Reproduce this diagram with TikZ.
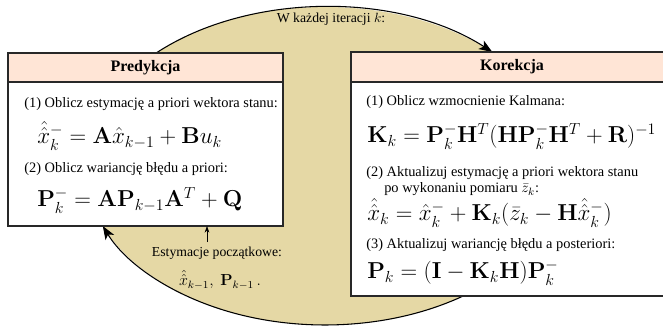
\documentclass[tikz,border=0pt]{standalone}
\usepackage[no-math]{fontspec}
\setmainfont{Liberation Serif}
\usepackage{amsmath}
\usetikzlibrary{arrows.meta,fit,calc}
\definecolor{cyklfill}{RGB}{229,216,165}
\definecolor{naglfill}{RGB}{255,229,214}
\definecolor{ramka}{RGB}{40,40,40}

\begin{document}
\begin{tikzpicture}[x=0.75pt, y=0.75pt, >={Stealth[length=10pt, width=7.5pt, inset=2.5pt]},
	every node/.style={font=\fontsize{10.8}{13}\selectfont},
	ramkaBox/.style={draw=ramka, fill=white, line width=0.8pt, inner sep=0pt},
	naglowek/.style={draw=ramka, fill=naglfill, line width=0.8pt, inner sep=0pt},
	tytul/.style={font=\fontsize{12}{14}\selectfont\bfseries},
	tekst/.style={anchor=base west, inner sep=0pt},
	uwaga/.style={font=\fontsize{10.3}{12}\selectfont},
	wzor/.style={anchor=base west, inner sep=0pt, font=\fontsize{16.5}{19}\selectfont}]
	\useasboundingbox (0,0) rectangle (663,327);

	% 1. tlo cyklu (elipsa pod ramkami)
	\coordinate (srodek) at (325,161);
	\fill[cyklfill] (srodek) ellipse [x radius=240, y radius=159];

	% 2. luki ze strzalkami
	\coordinate (gorStart) at ($(srodek)+(134.7:240 and 159)$);
	\coordinate (dolStart) at ($(srodek)+(-54.85:240 and 159)$);
	\draw[->, line width=0.8pt] (gorStart) arc[start angle=134.7, end angle=45.8, x radius=240, y radius=159];
	\draw[->, line width=0.8pt] (dolStart) arc[start angle=-54.85, end angle=-157.8, x radius=240, y radius=159];
	\node[uwaga] (iteracja) at (331,308) {W każdej iteracji $k$:};

	% 3. ramka predykcji
	\node[ramkaBox, fit={(8,274) (283,101)}] (predykcja) {};
	\node[naglowek, fit={(8,274) (283,245)}] (predNagl) {};
	\node[tytul] (predTytul) at (predNagl) {Predykcja};
	\node[tekst] (pred1) at (24,219) {(1) Oblicz estymację a priori wektora stanu:};
	\node[wzor] (predW1) at (37,183) {$\hat{\hat{x}}_k^- = \mathbf{A}\hat{x}_{k-1} + \mathbf{B}u_k$};
	\node[tekst] (pred2) at (24,154) {(2) Oblicz wariancję błędu a priori:};
	\node[wzor] (predW2) at (37,120) {$\mathbf{P}_k^- = \mathbf{A}\mathbf{P}_{k-1}\mathbf{A}^T + \mathbf{Q}$};

	% 4. ramka korekcji
	\node[ramkaBox, fit={(351,275) (673,31)}] (korekcja) {};
	\node[naglowek, fit={(351,275) (673,245)}] (korNagl) {};
	\node[tytul] (korTytul) at (korNagl) {Korekcja};
	\node[tekst] (kor1) at (366,221) {(1) Oblicz wzmocnienie Kalmana:};
	\node[wzor] (korW1) at (367,184) {$\mathbf{K}_k = \mathbf{P}_k^-\mathbf{H}^T(\mathbf{H}\mathbf{P}_k^-\mathbf{H}^T + \mathbf{R})^{-1}$};
	\node[tekst] (kor2) at (366,150) {(2) Aktualizuj estymację a priori wektora stanu};
	\node[tekst] (kor2b) at (384,134) {po wykonaniu pomiaru $\bar{z}_k$:};
	\node[wzor] (korW2) at (367,106) {$\hat{\hat{x}}_k = \hat{x}_k^- + \mathbf{K}_k(\bar{z}_k - \mathbf{H}\hat{\hat{x}}_k^-)$};
	\node[tekst] (kor3) at (366,78) {(3) Aktualizuj wariancję błędu a posteriori:};
	\node[wzor] (korW3) at (367,48) {$\mathbf{P}_k = (\mathbf{I} - \mathbf{K}_k\mathbf{H})\mathbf{P}_k^-$};

	% 5. estymacje poczatkowe
	\node[uwaga] (estym) at (217,74) {Estymacje początkowe:};
	\node[font=\fontsize{12}{14}\selectfont] (estymW) at (220,47) {$\hat{\hat{x}}_{k-1},\ \mathbf{P}_{k-1}\,.$};
	\coordinate (poczStrzalka) at (207,101);
	\draw[-{Stealth[length=5pt, width=3.5pt]}, thin] (estym.north -| poczStrzalka) -- (poczStrzalka);
\end{tikzpicture}
\end{document}
